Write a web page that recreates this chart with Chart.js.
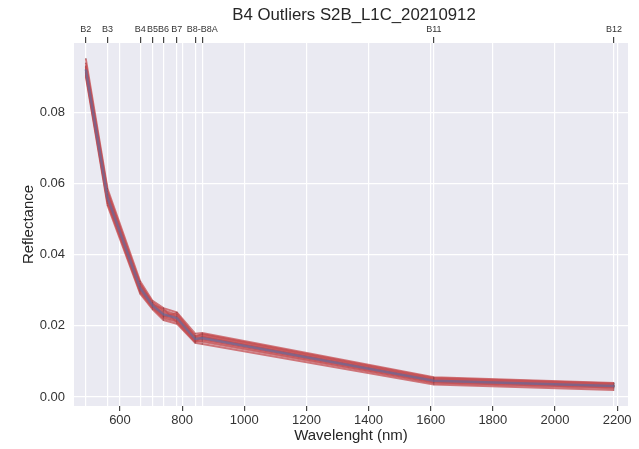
<!DOCTYPE html>
<html>
<head>
<meta charset="utf-8">
<script src="https://cdn.jsdelivr.net/npm/chart.js@4.4.1/dist/chart.umd.min.js"></script>
<style>
  html, body { margin: 0; padding: 0; background: #fff; }
  canvas { display: block; }
</style>
</head>
<body>
<canvas id="chart" width="639" height="449"></canvas>
<script>
// Sentinel-2 band centres (nm) and names for the top axis
const wavelengths = [490, 560, 665, 705, 740, 783, 842, 865, 1610, 2190];
const bandLabels = ['B2', 'B3', 'B4', 'B5', 'B6', 'B7', '', 'B8-B8A', 'B11', 'B12'];

// bottom / left tick values
const xTicks = [600, 800, 1000, 1200, 1400, 1600, 1800, 2000, 2200];
const yTicks = [0, 0.02, 0.04, 0.06, 0.08];

// outlier pixel spectra (reflectance per band)
const outlierSpectra = [
  [0.0950, 0.0585, 0.0325, 0.0270, 0.0250, 0.0238, 0.0178, 0.0180, 0.0056, 0.0040],
  [0.0938, 0.0578, 0.0318, 0.0266, 0.0244, 0.0232, 0.0172, 0.0176, 0.0052, 0.0037],
  [0.0930, 0.0570, 0.0312, 0.0262, 0.0240, 0.0228, 0.0168, 0.0172, 0.0050, 0.0035],
  [0.0926, 0.0566, 0.0309, 0.0260, 0.0236, 0.0226, 0.0166, 0.0169, 0.0048, 0.0033],
  [0.0922, 0.0562, 0.0306, 0.0258, 0.0233, 0.0224, 0.0164, 0.0167, 0.0046, 0.0032],
  [0.0918, 0.0558, 0.0303, 0.0256, 0.0230, 0.0221, 0.0162, 0.0164, 0.0045, 0.0031],
  [0.0914, 0.0553, 0.0300, 0.0254, 0.0227, 0.0218, 0.0160, 0.0162, 0.0043, 0.0029],
  [0.0910, 0.0549, 0.0297, 0.0252, 0.0224, 0.0215, 0.0158, 0.0159, 0.0041, 0.0027],
  [0.0905, 0.0544, 0.0294, 0.0250, 0.0220, 0.0212, 0.0156, 0.0155, 0.0039, 0.0025],
  [0.0900, 0.0538, 0.0290, 0.0246, 0.0216, 0.0206, 0.0152, 0.0149, 0.0035, 0.0020],
  [0.0928, 0.0574, 0.0315, 0.0263, 0.0226, 0.0236, 0.0170, 0.0177, 0.0054, 0.0038],
  [0.0912, 0.0550, 0.0320, 0.0259, 0.0248, 0.0210, 0.0155, 0.0170, 0.0047, 0.0030]
];

// mean spectrum, drawn on top
const meanSpectrum = [0.0920, 0.0560, 0.0306, 0.0257, 0.0232, 0.0222, 0.0163, 0.0166, 0.0046, 0.0031];

const toPoints = vals => vals.map((v, i) => ({ x: wavelengths[i], y: v }));

const datasets = [{
  data: toPoints(meanSpectrum),
  borderColor: 'rgba(76, 114, 176, 0.55)',
  borderWidth: 2.5,
  pointRadius: 0,
  order: 0
}];
outlierSpectra.forEach(s => {
  datasets.push({
    data: toPoints(s),
    borderColor: 'rgba(196, 78, 82, 0.75)',
    borderWidth: 1.9,
    pointRadius: 0.7,
    pointBorderWidth: 0,
    pointBackgroundColor: 'rgba(90, 50, 60, 0.45)',
    order: 1
  });
});

// grey axes background + title centred over the plot
const seabornBg = {
  id: 'seabornBg',
  beforeDraw(chart) {
    const { ctx, chartArea: a } = chart;
    ctx.save();
    ctx.fillStyle = '#EAEAF2';
    ctx.fillRect(a.left, a.top, a.right - a.left, a.bottom - a.top);
    ctx.restore();
  },
  afterDraw(chart) {
    const { ctx, chartArea: a } = chart;
    ctx.save();
    ctx.fillStyle = '#262626';
    ctx.font = '16.8px "Liberation Sans", Arial, sans-serif';
    ctx.textAlign = 'center';
    ctx.textBaseline = 'middle';
    ctx.fillText('B4 Outliers S2B_L1C_20210912', (a.left + a.right) / 2 + 3, 15);
    ctx.restore();
  }
};

const font = { family: '"Liberation Sans", Arial, sans-serif' };
const xMin = 452, xMax = 2235;

new Chart(document.getElementById('chart'), {
  type: 'line',
  data: { datasets },
  plugins: [seabornBg],
  options: {
    responsive: false,
    animation: false,
    layout: { padding: { left: 16, right: 11, top: 22, bottom: 0 } },
    plugins: { legend: { display: false }, tooltip: { enabled: false } },
    elements: { line: { tension: 0 } },
    scales: {
      x: {
        type: 'linear',
        position: 'bottom',
        min: xMin,
        max: xMax,
        afterBuildTicks: s => { s.ticks = xTicks.map(v => ({ value: v })); },
        afterFit: s => { s.height = 43; },
        border: { display: false },
        grid: { color: '#ffffff', lineWidth: 1.2, tickColor: '#444', tickLength: 5 },
        ticks: { color: '#333', font: { ...font, size: 13 }, padding: 2, maxRotation: 0, autoSkip: false, callback: v => String(v) },
        title: { display: true, text: 'Wavelenght (nm)', color: '#262626', font: { ...font, size: 15 } }
      },
      x2: {
        type: 'linear',
        position: 'top',
        min: xMin,
        max: xMax,
        afterBuildTicks: s => { s.ticks = wavelengths.map(v => ({ value: v })); },
        afterFit: s => { s.height = 21; },
        border: { display: false },
        grid: { color: '#ffffff', lineWidth: 1.2, tickColor: '#444', tickLength: 6 },
        ticks: {
          color: '#333',
          font: { ...font, size: 9 },
          padding: 2,
          maxRotation: 0,
          autoSkip: false,
          callback: (v, i) => bandLabels[i]
        }
      },
      y: {
        min: -0.0025,
        max: 0.0994,
        afterBuildTicks: s => { s.ticks = yTicks.map(v => ({ value: v })); },
        afterFit: s => { s.width = 58; },
        border: { display: false },
        grid: { color: '#ffffff', lineWidth: 1.2, drawTicks: false },
        ticks: { color: '#333', font: { ...font, size: 13 }, padding: 9, callback: v => v.toFixed(2) },
        title: { display: true, text: 'Reflectance', color: '#262626', font: { ...font, size: 15 } }
      }
    }
  }
});
</script>
</body>
</html>
